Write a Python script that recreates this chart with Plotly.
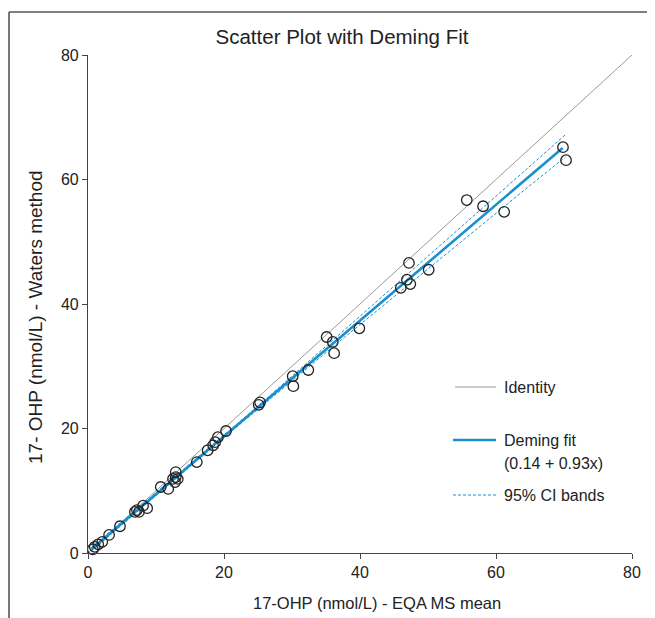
import plotly.graph_objects as go

# ---- data ----
eqa_ms_mean = [69.85, 70.3, 55.7, 58.1, 61.2, 47.2, 50.1, 46.9, 47.4, 46.0,
               35.1, 36.0, 36.2, 39.9, 32.4, 30.1, 30.2, 25.1, 25.3, 20.3,
               19.1, 18.7, 18.4, 17.6, 16.0, 12.9, 12.9, 12.5, 13.2, 12.8,
               10.7, 11.8, 8.7, 8.1, 7.2, 6.9, 7.5, 4.7, 3.1, 2.1,
               1.5, 1.0, 0.7]
waters = [65.2, 63.1, 56.7, 55.7, 54.8, 46.6, 45.5, 43.9, 43.2, 42.6,
          34.7, 33.9, 32.1, 36.1, 29.4, 28.4, 26.8, 23.8, 24.2, 19.6,
          18.6, 17.8, 17.3, 16.5, 14.6, 13.0, 12.2, 11.9, 11.9, 11.4,
          10.6, 10.3, 7.2, 7.6, 6.9, 6.6, 6.6, 4.3, 2.9, 1.8,
          1.4, 1.0, 0.6]

identity_x = [0, 80]
identity_y = [0, 80]

fit_x = [0.5, 69.8]
fit_y = [0.61, 65.05]

band_x = [0.5, 5, 10, 15, 20, 25, 30, 35, 40, 45, 50, 55, 60, 65, 70.2]
band_upper = [0.9, 5.05, 9.65, 14.27, 18.92, 23.6, 28.4, 33.2, 38.0, 42.8,
              47.65, 52.45, 57.3, 62.15, 67.2]
band_lower = [0.3, 4.55, 9.25, 13.9, 18.55, 23.15, 27.7, 32.2, 36.7, 41.2,
              45.65, 50.15, 54.6, 59.05, 63.6]

x_ticks = [0, 20, 40, 60, 80]
y_ticks = [0, 20, 40, 60, 80]

title_text = "Scatter Plot with Deming Fit"
x_label = "17-OHP (nmol/L) - EQA MS mean"
y_label = "17- OHP (nmol/L) - Waters method"
legend_labels = ["Identity", "Deming fit", "(0.14 + 0.93x)", "95% CI bands"]

BLUE = "#1a8fd0"
GRAY = "#9a9a9a"
TXT = "#222222"
FONT = "Liberation Sans, Arial, sans-serif"

fig = go.Figure()
fig.add_trace(go.Scatter(x=identity_x, y=identity_y, mode="lines",
                         line=dict(color=GRAY, width=1), showlegend=False))
fig.add_trace(go.Scatter(x=band_x, y=band_upper, mode="lines",
                         line=dict(color=BLUE, width=1, dash="3px,2px"), showlegend=False))
fig.add_trace(go.Scatter(x=band_x, y=band_lower, mode="lines",
                         line=dict(color=BLUE, width=1, dash="3px,2px"), showlegend=False))
fig.add_trace(go.Scatter(x=fit_x, y=fit_y, mode="lines",
                         line=dict(color=BLUE, width=2.6), showlegend=False))
fig.add_trace(go.Scatter(x=eqa_ms_mean, y=waters, mode="markers",
                         marker=dict(symbol="circle-open", size=10.5,
                                     line=dict(color=TXT, width=1.3), color=TXT),
                         cliponaxis=False, showlegend=False))

# page offset (browser body margin) and reference plot area in screen pixels
OFF = 8
PL, PR, PT, PB = 88, 632, 55, 553
W, H = 655 - OFF, 618 - OFF
L, T = PL - OFF, PT - OFF
pw, ph = PR - PL, PB - PT
R, B = W - L - pw, H - T - ph


def px2x(px):
    return (px - PL) / pw


def px2y(py):
    return (PB - py) / ph


shapes = []
# outer frame (left and top edges)
shapes.append(dict(type="line", xref="paper", yref="paper",
                   x0=px2x(9), y0=px2y(12), x1=px2x(9), y1=px2y(640),
                   line=dict(color="#555555", width=1.6)))
shapes.append(dict(type="line", xref="paper", yref="paper",
                   x0=px2x(9), y0=px2y(12), x1=px2x(680), y1=px2y(12),
                   line=dict(color="#555555", width=1.6)))
# legend swatches
shapes.append(dict(type="line", xref="paper", yref="paper",
                   x0=px2x(455), x1=px2x(496), y0=px2y(387), y1=px2y(387),
                   line=dict(color=GRAY, width=1)))
shapes.append(dict(type="line", xref="paper", yref="paper",
                   x0=px2x(453), x1=px2x(496), y0=px2y(440), y1=px2y(440),
                   line=dict(color=BLUE, width=2.6)))
shapes.append(dict(type="line", xref="paper", yref="paper",
                   x0=px2x(453), x1=px2x(496), y0=px2y(495), y1=px2y(495),
                   line=dict(color=BLUE, width=1, dash="3px,2px")))

annotations = []
for label, py in zip(legend_labels, [387, 440, 463, 495]):
    annotations.append(dict(text=label, xref="paper", yref="paper",
                            x=px2x(502), y=px2y(py), xanchor="left", yanchor="middle",
                            showarrow=False, font=dict(size=16, color=TXT, family=FONT)))
# axis titles
annotations.append(dict(text=y_label, xref="paper", yref="paper",
                        x=px2x(35), y=px2y(317), xanchor="center", yanchor="middle",
                        textangle=-90, showarrow=False,
                        font=dict(size=19, color=TXT, family=FONT)))
annotations.append(dict(text=x_label, xref="paper", yref="paper",
                        x=px2x(377), y=px2y(603), xanchor="center", yanchor="middle",
                        showarrow=False,
                        font=dict(size=16.5, color=TXT, family=FONT)))

fig.update_layout(
    width=W, height=H,
    margin=dict(l=L, r=R, t=T, b=B),
    paper_bgcolor="white", plot_bgcolor="white",
    font=dict(family=FONT, color=TXT, size=16),
    title=dict(text=title_text, x=px2x(342), xref="paper", xanchor="center",
               y=1 - (37 - OFF) / H, yref="container", yanchor="middle",
               font=dict(size=20.5, color=TXT, family=FONT)),
    shapes=shapes,
    annotations=annotations,
    showlegend=False,
)
fig.update_xaxes(range=[0, 80], tickvals=x_ticks, ticks="outside", ticklen=5,
                 tickcolor="#444444", tickwidth=1.2, showline=True, linecolor="#444444",
                 linewidth=1.2, showgrid=False, zeroline=False,
                 tickfont=dict(size=16, color=TXT))
fig.update_yaxes(range=[0, 80], tickvals=y_ticks, ticks="outside", ticklen=5,
                 tickcolor="#444444", tickwidth=1.2, showline=True, linecolor="#444444",
                 linewidth=1.2, showgrid=False, zeroline=False,
                 tickfont=dict(size=16, color=TXT))

fig.write_html("out.html")
